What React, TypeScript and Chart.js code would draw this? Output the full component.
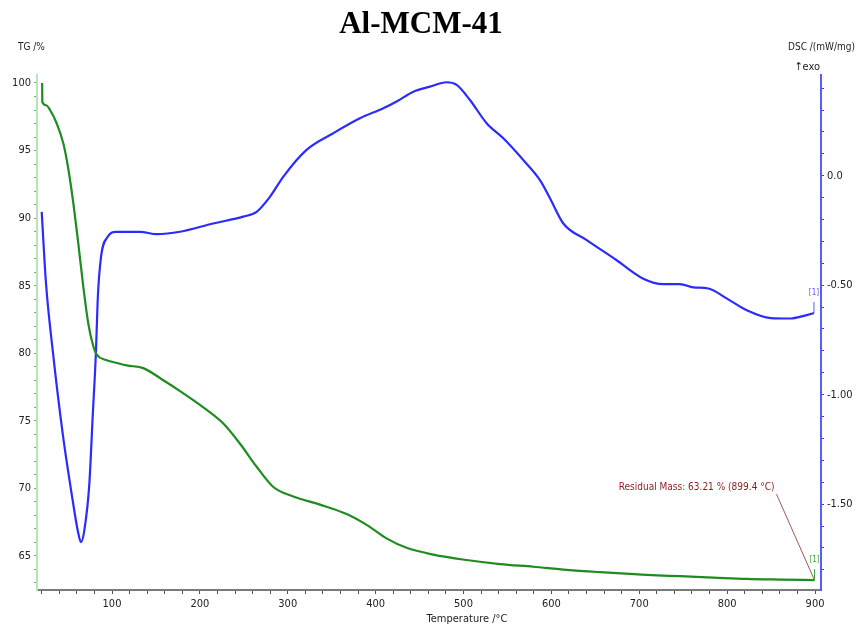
import React, { useEffect, useRef } from "react";
import { Chart, registerables } from "chart.js";

Chart.register(...registerables);

const TITLE = "Al-MCM-41";
const X_TITLE = "Temperature /°C";
const TG_TITLE = "TG /%";
const DSC_TITLE = "DSC /(mW/mg)";
const EXO_LABEL = "↑exo";
const RESIDUAL_LABEL = "Residual Mass: 63.21 % (899.4 °C)";
const RESIDUAL_T = 899.4;
const RESIDUAL_MASS = 63.21;

const X_MAJOR = [100, 200, 300, 400, 500, 600, 700, 800, 900];
const TG_MAJOR = [65, 70, 75, 80, 85, 90, 95, 100];
const DSC_MAJOR = [0, -0.5, -1.0, -1.5];
const DSC_MAJOR_LABELS = ["0.0", "-0.50", "-1.00", "-1.50"];

const TG_T = [20.5, 20.7, 25.0, 29.5, 37.1, 44.7, 50.4, 56.0, 61.7, 67.4, 73.0, 78.8, 82.6, 93.2, 104.6, 116.7, 135.6, 158.4, 177.4, 203.9, 226.7, 245.7, 264.6, 283.6, 306.3, 336.6, 367.0, 389.7, 412.4, 435.2, 465.6, 503.5, 541.5, 579.4, 617.5, 655.5, 708.3, 746.3, 784.2, 822.2, 860.1, 899.4];
const TG = [100.0, 98.6, 98.35, 98.0, 97.0, 95.5, 93.6, 91.1, 88.1, 84.9, 82.2, 80.5, 79.9, 79.5, 79.3, 79.1, 78.9, 78.0, 77.2, 76.0, 74.8, 73.3, 71.6, 70.1, 69.4, 68.8, 68.1, 67.3, 66.3, 65.6, 65.1, 64.7, 64.4, 64.2, 63.97, 63.8, 63.6, 63.5, 63.4, 63.3, 63.25, 63.21];

const DSC_T = [20.0, 24.9, 32.5, 43.9, 55.3, 61.0, 64.7, 68.5, 74.2, 78.0, 81.8, 83.7, 87.5, 95.1, 104.6, 131.9, 150.8, 177.4, 215.2, 249.4, 264.6, 279.8, 294.8, 321.4, 351.8, 382.1, 408.7, 423.9, 442.9, 461.8, 480.8, 492.2, 507.3, 526.3, 545.3, 568.0, 587.0, 598.4, 613.6, 640.2, 674.3, 704.6, 727.3, 746.3, 761.5, 778.6, 799.4, 822.2, 849.5, 872.2, 887.4, 898.8];
const DSC = [-0.165, -0.492, -0.797, -1.178, -1.484, -1.62, -1.674, -1.62, -1.407, -1.102, -0.797, -0.569, -0.371, -0.279, -0.256, -0.256, -0.267, -0.256, -0.218, -0.187, -0.165, -0.096, -0.005, 0.118, 0.194, 0.262, 0.308, 0.339, 0.384, 0.407, 0.427, 0.415, 0.346, 0.24, 0.171, 0.072, -0.02, -0.103, -0.218, -0.294, -0.386, -0.47, -0.495, -0.495, -0.51, -0.515, -0.56, -0.614, -0.65, -0.652, -0.64, -0.627];

const NARROW = "'Liberation Sans Narrow', 'DejaVu Sans Condensed', 'Arial Narrow', sans-serif";

function range(from: number, to: number, step: number): number[] {
  const out: number[] = [];
  const n = Math.round((to - from) / step);
  for (let i = 0; i <= n; i++) out.push(Math.round((from + i * step) * 1000) / 1000);
  return out;
}

const X_MINOR = range(20, 900, 20);
const TG_MINOR = range(63, 100, 1);
const DSC_MINOR = range(-1.8, 0.4, 0.1);

const isMajor = (v: number, majors: number[]) => majors.some((m) => Math.abs(m - v) < 1e-6);

const overlay = {
  id: "overlay",
  afterDraw(chart: any) {
    const { ctx, scales } = chart;
    const xs = scales.x;
    const yl = scales.y;
    const yr = scales.y1;
    ctx.save();
    ctx.textBaseline = "middle";

    ctx.font = "bold 31px 'Liberation Serif', 'Times New Roman', serif";
    ctx.fillStyle = "#000";
    ctx.textAlign = "center";
    ctx.fillText(TITLE, 421, 25);

    ctx.font = `10px ${NARROW}`;
    ctx.fillStyle = "#222";
    ctx.textAlign = "left";
    ctx.fillText(TG_TITLE, 18, 47);
    ctx.textAlign = "right";
    ctx.fillText(DSC_TITLE, 855, 47);
    ctx.font = `11px ${NARROW}`;
    ctx.fillText(EXO_LABEL, 820, 67);

    ctx.font = `11px ${NARROW}`;
    ctx.textAlign = "center";
    ctx.fillText(X_TITLE, 467, 619);

    // residual mass annotation
    const ax = xs.getPixelForValue(RESIDUAL_T);
    const ay = yl.getPixelForValue(RESIDUAL_MASS);
    ctx.strokeStyle = "#a05858";
    ctx.lineWidth = 1;
    ctx.beginPath();
    ctx.moveTo(ax, ay);
    ctx.lineTo(ax - 38, ay - 86);
    ctx.stroke();
    ctx.font = `10px ${NARROW}`;
    ctx.fillStyle = "#8b1c1c";
    ctx.textAlign = "right";
    ctx.fillText(RESIDUAL_LABEL, ax - 40, ay - 93);

    // [1] markers
    ctx.strokeStyle = "#3aa83a";
    ctx.beginPath();
    ctx.moveTo(ax, ay);
    ctx.lineTo(ax, ay - 11);
    ctx.stroke();
    ctx.font = `8px ${NARROW}`;
    ctx.fillStyle = "#3aa83a";
    ctx.textAlign = "center";
    ctx.fillText("[1]", ax, ay - 20);

    const bx = xs.getPixelForValue(DSC_T[DSC_T.length - 1]);
    const by = yr.getPixelForValue(DSC[DSC.length - 1]);
    ctx.strokeStyle = "#5a5aff";
    ctx.beginPath();
    ctx.moveTo(bx, by);
    ctx.lineTo(bx, by - 11);
    ctx.stroke();
    ctx.fillStyle = "#5a5aff";
    ctx.fillText("[1]", bx, by - 20);

    ctx.restore();
  },
};

export default function App() {
  const ref = useRef<HTMLCanvasElement | null>(null);

  useEffect(() => {
    if (!ref.current) return;
    const tgData = TG_T.map((t, i) => ({ x: t, y: TG[i] }));
    const dscData = DSC_T.map((t, i) => ({ x: t, y: DSC[i] }));
    const tickFont = { family: NARROW, size: 11 };

    const chart = new Chart(ref.current, {
      type: "scatter",
      data: {
        datasets: [
          {
            label: "TG",
            data: tgData,
            yAxisID: "y",
            showLine: true,
            borderColor: "#1f8c1f",
            borderWidth: 2.2,
            pointRadius: 0,
            cubicInterpolationMode: "monotone",
          },
          {
            label: "DSC",
            data: dscData,
            yAxisID: "y1",
            showLine: true,
            borderColor: "#2b2bff",
            borderWidth: 2.2,
            pointRadius: 0,
            cubicInterpolationMode: "monotone",
          },
        ],
      },
      options: {
        animation: false,
        responsive: false,
        layout: { padding: { top: 75, left: 0, right: 0, bottom: 0 } },
        plugins: { legend: { display: false }, title: { display: false }, tooltip: { enabled: false } },
        scales: {
          x: {
            type: "linear",
            position: "bottom",
            min: 14.65,
            max: 906.8,
            afterFit: (s: any) => { s.height = 39; },
            afterBuildTicks: (s: any) => { s.ticks = X_MINOR.map((v) => ({ value: v })); },
            grid: { drawOnChartArea: false, tickLength: 4, tickColor: "#555", color: "#555" },
            border: { display: true, color: "#7a7a7a", width: 2 },
            ticks: {
              autoSkip: false,
              maxRotation: 0,
              padding: 4,
              color: "#222",
              font: tickFont,
              callback: (v: any) => (isMajor(Number(v), X_MAJOR) ? String(v) : ""),
            },
          },
          y: {
            type: "linear",
            position: "left",
            min: 62.48,
            max: 100.59,
            afterFit: (s: any) => { s.width = 37; },
            afterBuildTicks: (s: any) => { s.ticks = TG_MINOR.map((v) => ({ value: v })); },
            grid: { drawOnChartArea: false, tickLength: 3, tickColor: "#66bb66", color: "#66bb66" },
            border: { display: true, color: "#b8e4b8", width: 2 },
            ticks: {
              autoSkip: false,
              padding: 3,
              color: "#222",
              font: tickFont,
              callback: (v: any) => (isMajor(Number(v), TG_MAJOR) ? String(v) : ""),
            },
          },
          y1: {
            type: "linear",
            position: "right",
            min: -1.892,
            max: 0.46,
            afterFit: (s: any) => { s.width = 36; },
            afterBuildTicks: (s: any) => { s.ticks = DSC_MINOR.map((v) => ({ value: v })); },
            grid: { drawOnChartArea: false, tickLength: 3, tickColor: "#3a3aff", color: "#3a3aff" },
            border: { display: true, color: "#5a5aff", width: 2 },
            ticks: {
              autoSkip: false,
              padding: 3,
              color: "#222",
              font: tickFont,
              callback: (v: any) => {
                const idx = DSC_MAJOR.findIndex((m) => Math.abs(m - Number(v)) < 1e-6);
                return idx >= 0 ? DSC_MAJOR_LABELS[idx] : "";
              },
            },
          },
        },
      },
      plugins: [overlay],
    } as any);

    return () => chart.destroy();
  }, []);

  return (
    <div style={{ position: "absolute", left: 0, top: 0, width: 857, height: 629, background: "#fff" }}>
      <canvas ref={ref} width={857} height={629} />
    </div>
  );
}
